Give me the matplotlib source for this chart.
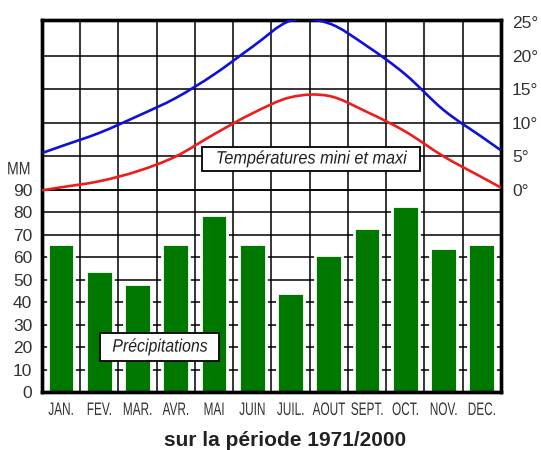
import matplotlib
matplotlib.use("Agg")
import matplotlib.pyplot as plt
import numpy as np
from matplotlib.path import Path
from matplotlib.patches import PathPatch
from matplotlib.patheffects import AbstractPathEffect
from matplotlib.transforms import Affine2D

months = ["JAN.", "FEV.", "MAR.", "AVR.", "MAI", "JUIN", "JUIL.", "AOUT", "SEPT.", "OCT.", "NOV.", "DEC."]
precip_mm = [66, 54, 48, 66, 79, 66, 44, 61, 73, 83, 64, 66]
temp_max = [6.5, 8.5, 11.0, 13.7, 17.2, 21.3, 25.2, 24.8, 21.4, 17.2, 11.9, 7.9]
temp_min = [0.4, 1.3, 2.8, 5.0, 8.3, 11.4, 13.8, 14.0, 11.6, 8.7, 5.0, 1.9]
mm_ticks = list(range(0, 100, 10))
deg_ticks = list(range(0, 30, 5))

SANS = ["Liberation Sans", "DejaVu Sans"]
TXT = "#333333"


class Stretch(AbstractPathEffect):
    """Scale text glyphs about their centre (stand-in for a narrow font)."""

    def __init__(self, sx=1.0, sy=1.0):
        super().__init__()
        self.sx = sx
        self.sy = sy

    def draw_path(self, renderer, gc, tpath, affine, rgbFace=None):
        ext = tpath.get_extents()
        cx = (ext.x0 + ext.x1) / 2
        cy = (ext.y0 + ext.y1) / 2
        scale = Affine2D().translate(-cx, -cy).scale(self.sx, self.sy).translate(cx, cy)
        renderer.draw_path(gc, tpath, scale + affine, rgbFace)


def smooth_path(xs, ys):
    """Catmull-Rom curve through the points, returned as a cubic Bezier Path."""
    pts = np.column_stack([xs, ys])
    # extend half a column to the frame edges along the end segments
    first = pts[0] - 0.5 * (pts[1] - pts[0]) / (pts[1, 0] - pts[0, 0])
    last = pts[-1] + 0.5 * (pts[-1] - pts[-2]) / (pts[-1, 0] - pts[-2, 0])
    pts = np.vstack([first, pts, last])
    ext = np.vstack([pts[0], pts, pts[-1]])
    verts = [pts[0]]
    codes = [Path.MOVETO]
    for i in range(1, len(ext) - 2):
        p0, p1, p2, p3 = ext[i - 1], ext[i], ext[i + 1], ext[i + 2]
        verts += [p1 + (p2 - p0) / 6, p2 - (p3 - p1) / 6, p2]
        codes += [Path.CURVE4] * 3
    return Path(verts, codes)


def main():
    fig = plt.figure(figsize=(5.41, 4.5), dpi=100)
    ax = fig.add_axes([0.0776, 0.1289, 0.8484, 0.8267])
    centers = np.arange(len(months)) + 0.5

    ax.set_xlim(0, 12)
    ax.set_ylim(0, 165.8)

    # grid
    for x in range(1, 12):
        ax.axvline(x, color="black", lw=1.1, zorder=1)
    for y in mm_ticks[1:]:
        ax.axhline(y, color="black", lw=1.1, zorder=1)

    ax.bar(centers, precip_mm, width=0.7, color="#007800", edgecolor="white",
           linewidth=2.0, zorder=2)

    # month names: small font stretched upward to look like a narrow face
    ax.set_xticks(centers)
    ax.set_xticklabels(months, fontsize=8.5, family=SANS, color=TXT)
    for lbl in ax.get_xticklabels():
        lbl.set_path_effects([Stretch(1.0, 1.53)])
    ax.set_yticks(mm_ticks)
    ax.set_yticklabels([str(v) for v in mm_ticks], fontsize=12.5, family=SANS, color=TXT)
    ax.tick_params(axis="both", length=0)
    ax.tick_params(axis="x", pad=8.5)
    ax.tick_params(axis="y", pad=7)
    for s in ax.spines.values():
        s.set_linewidth(2.4)

    ax.text(-0.018, 99, "MM", transform=ax.get_yaxis_transform(), ha="right", va="center",
            fontsize=13, family=SANS, color=TXT, path_effects=[Stretch(0.78, 1.0)])

    ax.text(3.08, 20, "Précipitations", ha="center", va="center", fontsize=13,
            family=SANS, style="italic", color="#222222", zorder=6,
            path_effects=[Stretch(0.88, 1.0)],
            bbox=dict(boxstyle="square,pad=0.3", fc="white", ec="black", lw=1.3))

    # temperatures
    ax2 = ax.twinx()
    ax2.set_ylim(-30.06, 25.3)
    for t in deg_ticks[:-1]:
        ax2.axhline(t, color="black", lw=1.1, zorder=1)

    ax2.add_patch(PathPatch(smooth_path(centers, temp_max), fill=False, ec="#1010dd",
                            lw=1.9, zorder=3, capstyle="butt"))
    ax2.add_patch(PathPatch(smooth_path(centers, temp_min), fill=False, ec="#ee1c1c",
                            lw=1.9, zorder=3, capstyle="butt"))

    ax2.set_yticks(deg_ticks)
    ax2.set_yticklabels([f"{t}°" for t in deg_ticks], fontsize=12.5, family=SANS, color=TXT)
    ax2.tick_params(axis="y", length=0, pad=8)
    for s in ax2.spines.values():
        s.set_linewidth(2.4)

    ax2.text(7.03, 4.6, "Températures mini et maxi", ha="center", va="center",
             fontsize=13, family=SANS, style="italic", color="#222222", zorder=6,
             path_effects=[Stretch(0.9, 1.0)],
             bbox=dict(boxstyle="square,pad=0.2", fc="white", ec="black", lw=1.3))

    fig.text(285 / 541, 1 - 440 / 450, "sur la période 1971/2000", ha="center", va="center",
             fontsize=15, weight="bold", family=SANS, color="#222222")

    fig.savefig("out.png", dpi=100)


if __name__ == "__main__":
    main()
